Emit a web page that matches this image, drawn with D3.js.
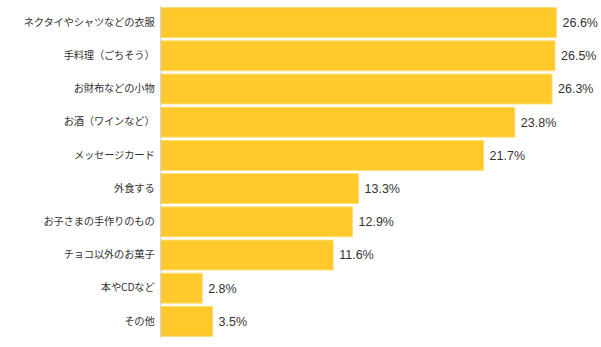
<!DOCTYPE html>
<html><head><meta charset="utf-8">
<script src="https://cdn.jsdelivr.net/npm/d3@7"></script>
<style>body{margin:0;background:#fff}svg{display:block}</style>
</head><body>
<svg id="chart" width="601" height="347"></svg>
<script>
const categories = ["ネクタイやシャツなどの衣服","手料理（ごちそう）","お財布などの小物","お酒（ワインなど）","メッセージカード","外食する","お子さまの手作りのもの","チョコ以外のお菓子","本やCDなど","その他"];
const values = [26.6, 26.5, 26.3, 23.8, 21.7, 13.3, 12.9, 11.6, 2.8, 3.5];
const valueLabels = ["26.6%","26.5%","26.3%","23.8%","21.7%","13.3%","12.9%","11.6%","2.8%","3.5%"];

const svg = d3.select("#chart");
const x = d3.scaleLinear().domain([0, 26.6]).range([160.5, 556.5]);
const y = d3.scaleBand().domain(categories).range([6, 338]).paddingInner(0.1).paddingOuter(0.05);

const g = svg.append("g");
g.selectAll("rect").data(categories).join("rect")
  .attr("x", x(0))
  .attr("y", d => y(d))
  .attr("width", (d,i) => x(values[i]) - x(0))
  .attr("height", y.bandwidth())
  .attr("fill", "#FFC92B")
  .attr("stroke", "#FFDD70")
  .attr("stroke-width", 1);

const yAxis = d3.axisLeft(y).tickSize(0).tickPadding(6);
const ya = svg.append("g").attr("transform", `translate(${x(0)},0)`).call(yAxis);
ya.select(".domain").attr("stroke", "#cccccc").attr("d", "M0.5,6V338");
ya.selectAll("text").attr("font-family", "'Noto Sans CJK JP', sans-serif").attr("font-size", "10.3px").attr("fill", "#333").attr("letter-spacing", "-0.2px");

g.selectAll("text.val").data(categories).join("text")
  .attr("class", "val")
  .attr("x", (d,i) => x(values[i]) + 6)
  .attr("y", d => y(d) + y.bandwidth()/2)
  .attr("dy", "0.35em")
  .attr("font-family", "'Liberation Sans', Arial, sans-serif")
  .attr("font-size", "12.5px")
  .attr("fill", "#333")
  .text((d,i) => valueLabels[i]);
</script>
</body></html>
